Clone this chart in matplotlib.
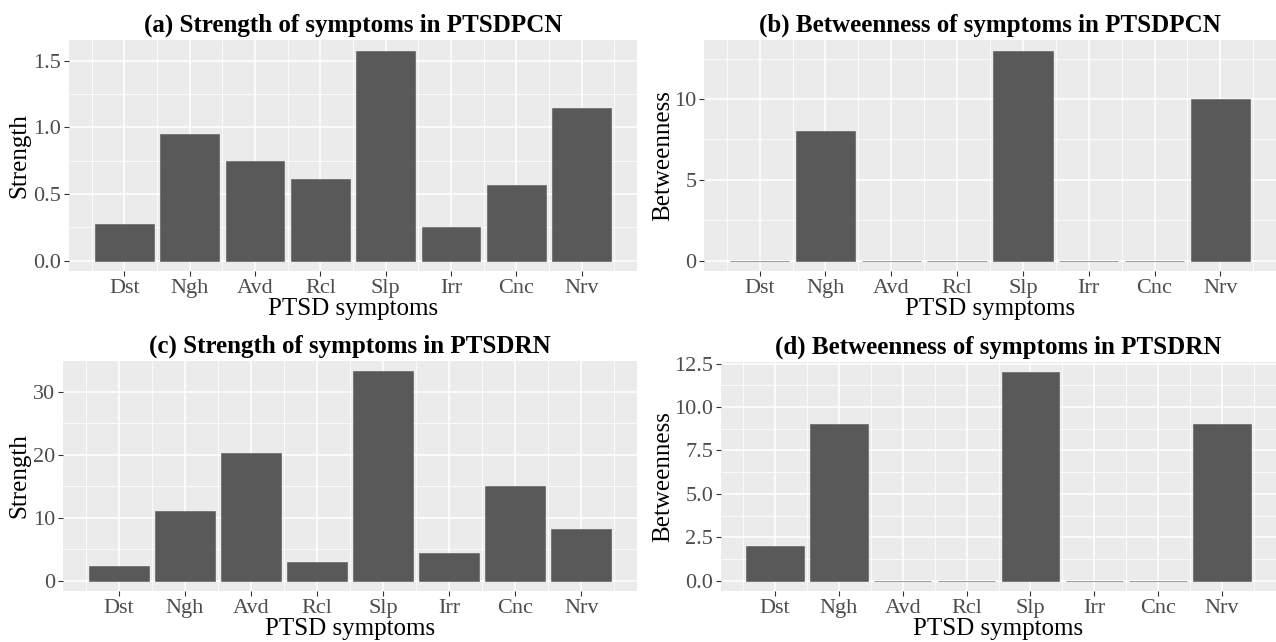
import numpy as np
import matplotlib.pyplot as plt
from matplotlib.ticker import FixedLocator
from matplotlib.transforms import blended_transform_factory

plt.rcParams['font.family'] = ['Liberation Serif', 'DejaVu Serif']

# ---- data ----
symptoms = ['Dst', 'Ngh', 'Avd', 'Rcl', 'Slp', 'Irr', 'Cnc', 'Nrv']

strength_pcn = [0.276, 0.952, 0.749, 0.614, 1.575, 0.253, 0.569, 1.147]
betweenness_pcn = [0, 8, 0, 0, 13, 0, 0, 10]
strength_rn = [2.33, 11.04, 20.2, 2.96, 33.2, 4.39, 15.0, 8.19]
betweenness_rn = [2, 9, 0, 0, 12, 0, 0, 9]

titles = ['(a) Strength of symptoms in PTSDPCN',
          '(b) Betweenness of symptoms in PTSDPCN',
          '(c) Strength of symptoms in PTSDRN',
          '(d) Betweenness of symptoms in PTSDRN']
ylabels = ['Strength', 'Betweenness', 'Strength', 'Betweenness']
yticks = [[0.0, 0.5, 1.0, 1.5], [0, 5, 10], [0, 10, 20, 30],
          [0.0, 2.5, 5.0, 7.5, 10.0, 12.5]]
ytick_labels = [['0.0', '0.5', '1.0', '1.5'], ['0', '5', '10'],
                ['0', '10', '20', '30'],
                ['0.0', '2.5', '5.0', '7.5', '10.0', '12.5']]

W, H = 1276, 642
# panel boxes in pixels: left, right, top, bottom
boxes = [(69, 637, 40, 271), (704, 1276, 40, 271),
         (63, 637, 361, 591), (721, 1276, 362, 591)]
# x position (px) of the y-axis title, shared per column
ylab_x = [30, 674, 30, 674]

BG = '#EBEBEB'
BAR = '#595959'

fig = plt.figure(figsize=(W / 100, H / 100), dpi=100)

series = [strength_pcn, betweenness_pcn, strength_rn, betweenness_rn]
x = np.arange(1, len(symptoms) + 1)

for i, vals in enumerate(series):
    l, r, t, b = boxes[i]
    ax = fig.add_axes([l / W, 1 - b / H, (r - l) / W, (b - t) / H])
    ax.set_facecolor(BG)
    ax.bar(x, vals, width=0.9, color=BAR, edgecolor=BAR, linewidth=0.4, zorder=3)

    # ggplot-like expansion of 5% on both axes
    ax.set_xlim(0.55 - 0.05 * 7.9, 8.45 + 0.05 * 7.9)
    ymax = max(vals)
    ax.set_ylim(-0.05 * ymax, 1.05 * ymax)

    ax.set_xticks(x)
    ax.set_xticklabels(symptoms)
    ax.xaxis.set_minor_locator(FixedLocator(np.arange(0.5, 9.0, 1.0)))
    yt = yticks[i]
    step = yt[1] - yt[0]
    ax.set_yticks(yt)
    ax.set_yticklabels(ytick_labels[i])
    ax.yaxis.set_minor_locator(FixedLocator(np.arange(yt[0] + step / 2, 1.05 * ymax, step)))

    ax.grid(which='major', color='white', linewidth=1.1, zorder=0)
    ax.grid(which='minor', color='white', linewidth=0.55, zorder=0)
    ax.set_axisbelow(True)
    for s in ax.spines.values():
        s.set_visible(False)

    ax.tick_params(which='major', length=3.5, width=0.8, color='#333333',
                   labelcolor='#4D4D4D', labelsize=16, pad=2)
    ax.tick_params(which='minor', length=0)

    ax.set_title(titles[i], fontsize=18, fontweight='bold', pad=6)
    ax.set_xlabel('PTSD symptoms', fontsize=18, labelpad=0)
    ax.set_ylabel(ylabels[i], fontsize=18)
    ax.yaxis.set_label_coords(ylab_x[i] / W, 0.5,
                              transform=blended_transform_factory(fig.transFigure, ax.transAxes))

fig.savefig('out.png', dpi=100)
